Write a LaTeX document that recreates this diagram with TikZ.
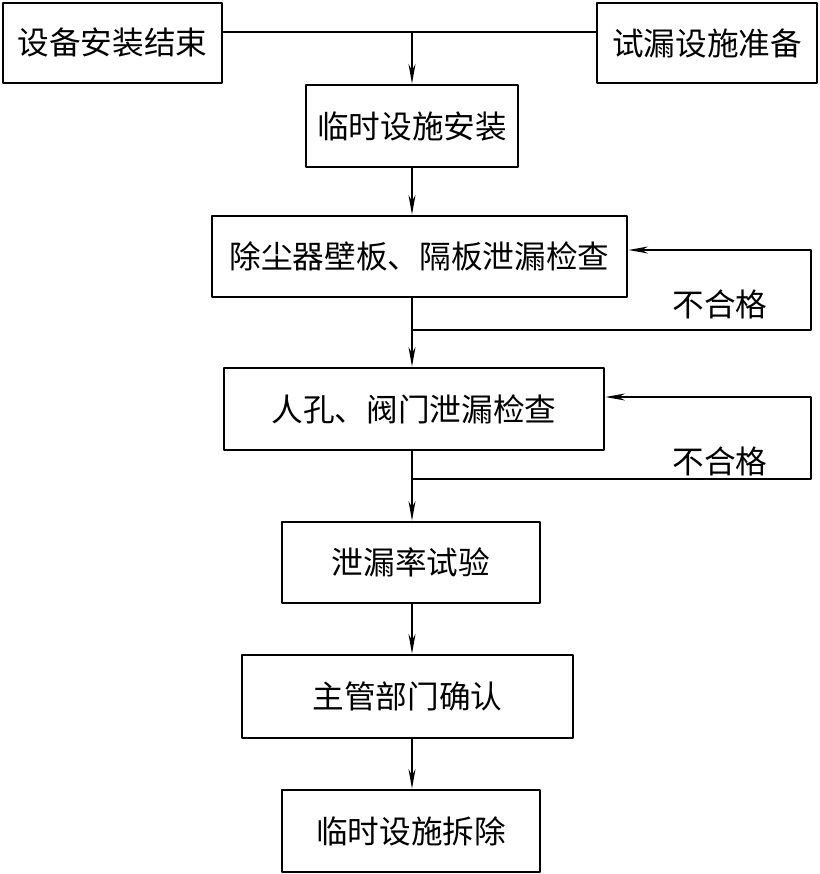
\documentclass[tikz,border=0pt]{standalone}
\usepackage{fontspec}
\newfontfamily\cjk{Noto Sans CJK SC}
\usetikzlibrary{arrows.meta}

\tikzset{
	stepbox/.style={draw, line width=2pt, inner sep=0pt, align=center},
	flow/.style={line width=1pt, -{Stealth[length=14pt, width=5pt]}},
	plain/.style={line width=1pt}
}

\begin{document}
\begin{tikzpicture}[
		x=0.025cm, y=-0.025cm,
		every node/.style={font=\cjk\fontsize{22.5}{27}\selectfont},
		line cap=round,
		line join=round
		]
		\useasboundingbox (0,0) rectangle (820,874);
		% =========================
		% Flow line parameters
		% =========================
		\def\cx{412}
		\def\rx{811}
		
		% --------------------------------
		% Boxes
		% --------------------------------
		\node[stepbox, minimum width=5.475cm, minimum height=2cm]
		(install_end) at (112.5,43) {设备安装结束};
		\node[stepbox, minimum width=5.5cm, minimum height=2cm]
		(prep) at (707,43) {试漏设施准备};
		\node[stepbox, minimum width=5.3cm, minimum height=2.05cm]
		(temp_install) at (412,126) {临时设施安装};
		\node[stepbox, minimum width=10.375cm, minimum height=2.025cm]
		(wall_check) at (419.5,256.5) {除尘器壁板、隔板泄漏检查};
		\node[stepbox, minimum width=9.5cm, minimum height=2.05cm]
		(hole_check) at (414,409) {人孔、阀门泄漏检查};
		\node[stepbox, minimum width=6.45cm, minimum height=2.025cm]
		(rate_test) at (411,562.5) {泄漏率试验};
		\node[stepbox, minimum width=8.275cm, minimum height=2.075cm]
		(confirm) at (407.5,696.5) {主管部门确认};
		\node[stepbox, minimum width=6.45cm, minimum height=2.05cm]
		(remove) at (411,831) {临时设施拆除};
		
		% --------------------------------
		% Helper points on the spine
		% --------------------------------
		\coordinate (spine) at (\cx,0);
		\coordinate (join_top) at (\cx,32);
		\coordinate (fail_a) at (\cx,330);
		\coordinate (fail_b) at (\cx,479);
		
		% --------------------------------
		% Top join
		% --------------------------------
		\draw[plain] (install_end.east |- join_top) -- (prep.west |- join_top);
		\draw[flow] (join_top) -- (temp_install.north -| spine);
		
		% --------------------------------
		% Main flow
		% --------------------------------
		\draw[flow] (temp_install.south -| spine) -- (wall_check.north -| spine);
		\draw[flow] (wall_check.south -| spine) -- (hole_check.north -| spine);
		\draw[flow] (hole_check.south -| spine) -- (rate_test.north -| spine);
		\draw[flow] (rate_test.south -| spine) -- (confirm.north -| spine);
		\draw[flow] (confirm.south -| spine) -- (remove.north -| spine);
		
		% --------------------------------
		% Feedback loops
		% --------------------------------
		\draw[flow] (fail_a) -- (\rx,330) -- (\rx,250) -- (wall_check.east |- 0,250);
		\node (fail_a_lbl) at (720,304) {不合格};
		
		\draw[flow] (fail_b) -- (\rx,479) -- (\rx,397) -- (hole_check.east |- 0,397);
		\node (fail_b_lbl) at (720,461) {不合格};
		
	\end{tikzpicture}
\end{document}
